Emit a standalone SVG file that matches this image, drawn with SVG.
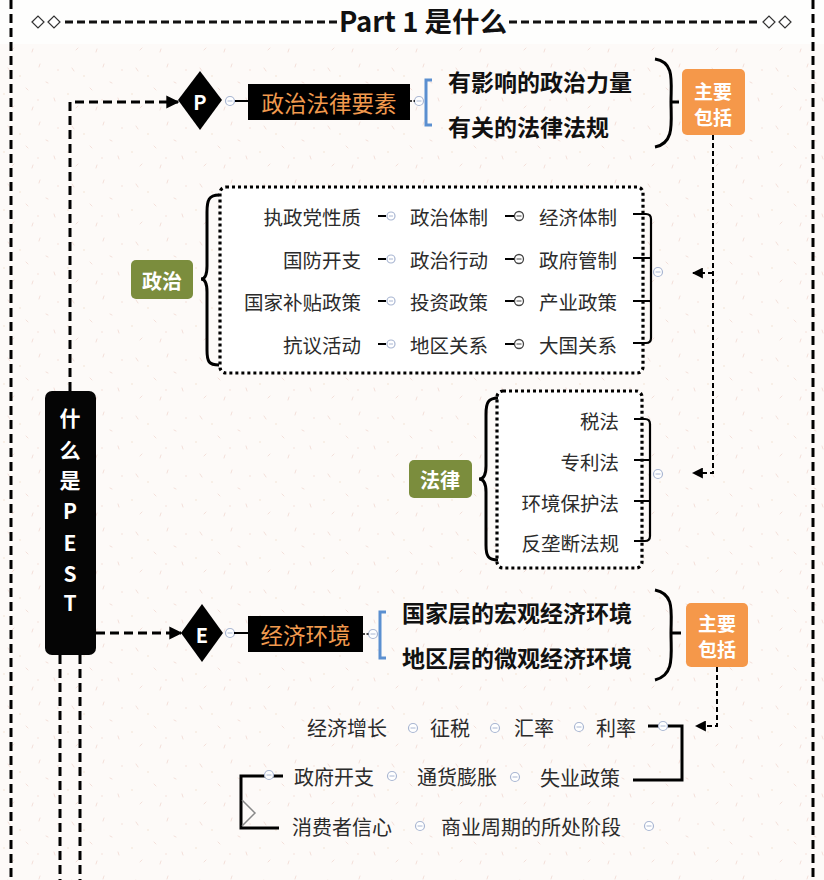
<svg xmlns="http://www.w3.org/2000/svg" width="824" height="880" viewBox="0 0 824 880">
<defs>
<pattern id="speck" width="64" height="58" patternUnits="userSpaceOnUse">
<rect width="64" height="58" fill="#fdfaf8"/>
<path d="M8,10 l2,3 M40,6 l-1,3 M26,30 l2,2 M54,40 l1,3 M14,48 l-2,2 M46,24 l2,1 M32,52 l1,-3" stroke="#f4e0da" stroke-width="1" stroke-linecap="round"/>
<circle cx="20" cy="18" r="0.8" fill="#f3e2d2"/>
<circle cx="58" cy="12" r="0.8" fill="#f5e0da"/>
<circle cx="4" cy="36" r="0.8" fill="#f3e2d2"/>
<circle cx="38" cy="42" r="0.8" fill="#f5e0da"/>
</pattern>
<marker id="arrowBig" viewBox="0 0 10 10" refX="9" refY="5" markerWidth="13" markerHeight="14" markerUnits="userSpaceOnUse" orient="auto">
<path d="M0,0 L10,5 L0,10 z" fill="#000"/>
</marker>
<marker id="arrowSmall" viewBox="0 0 10 10" refX="9" refY="5" markerWidth="11" markerHeight="11" markerUnits="userSpaceOnUse" orient="auto">
<path d="M0,0 L10,5 L0,10 z" fill="#000"/>
</marker>
<style>
text{font-family:"Noto Sans CJK SC","Liberation Sans",sans-serif;dominant-baseline:central}
.reg{font-size:19.5px;fill:#2b2b2b}
.eco{font-size:20px;fill:#2b2b2b}
.big{font-size:23px;font-weight:bold;fill:#111}
.topic{font-size:22.5px;fill:#f19a4e}
.white{fill:#fff;font-weight:bold}
.dash3{fill:none;stroke:#000;stroke-width:3;stroke-dasharray:9 5}
.dash2{fill:none;stroke:#000;stroke-width:2;stroke-dasharray:5 3}
.dot{fill:#fff;stroke:#000;stroke-width:3.2;stroke-dasharray:3 3}
.solid{fill:none;stroke:#000;stroke-width:3}
.thin{fill:none;stroke:#000;stroke-width:2.2}
.blue{fill:none;stroke:#5b8fd0;stroke-width:3}
.cl{fill:#fff;stroke:#a9b6d2;stroke-width:1.2}
.cld{fill:#fff;stroke:#444;stroke-width:1.3}
.orange{fill:#f5984a}
.green{fill:#7b8d3d}
</style>
</defs>

<rect width="824" height="880" fill="url(#speck)"/>
<rect width="824" height="44" fill="#fefefd"/>

<g id="frame">
<path d="M11,0 V880 M813,0 V880" class="dash3"/>
<path d="M65,22 H337 M509,22 H759" fill="none" stroke="#111" stroke-width="2.8" stroke-dasharray="8 4"/>
<path d="M32,22 l6,-6 l6,6 l-6,6 z M48,22 l6,-6 l6,6 l-6,6 z M763,22 l6,-6 l6,6 l-6,6 z M779,22 l6,-6 l6,6 l-6,6 z" fill="#fff" stroke="#333" stroke-width="1.2"/>
</g>
<g id="title">
<text x="423" y="20" font-size="27.5" font-weight="bold" fill="#111" text-anchor="middle">Part 1 是什么</text>
</g>

<g id="center">
<rect x="45" y="391" width="51" height="264" rx="7" fill="#050505"/>
<g class="white" font-size="21" text-anchor="middle">
<text x="70" y="417">什</text>
<text x="70" y="449">么</text>
<text x="70" y="479">是</text>
<text x="70" y="510">P</text>
<text x="70" y="542">E</text>
<text x="70" y="573">S</text>
<text x="70" y="602">T</text>
</g>
</g>

<g id="P-diamond">
<path d="M200,71 L222,100 L200,130 L178,100 z" fill="#000"/>
<text x="200" y="101" class="white" font-size="20" text-anchor="middle">P</text>
<circle cx="230" cy="101" r="4.5" class="cl"/><path d="M227.5,101 H232.5" stroke="#a9b6d2" stroke-width="1"/>
</g>
<g id="P-topic">
<rect x="248" y="84" width="162" height="36" fill="#000"/>
<text x="329" y="102" class="topic" text-anchor="middle">政治法律要素</text>
<circle cx="419" cy="101" r="4.5" class="cl"/><path d="M416.5,101 H421.5" stroke="#a9b6d2" stroke-width="1"/>
</g>
<g id="P-items">
<text x="448" y="81" class="big">有影响的政治力量</text>
<text x="448" y="126" class="big">有关的法律法规</text>
</g>
<g id="P-summary">
<rect x="682" y="69" width="63" height="66" rx="5" class="orange"/>
<text x="713" y="90" class="white" font-size="19" text-anchor="middle">主要</text>
<text x="713" y="116" class="white" font-size="19" text-anchor="middle">包括</text>
</g>

<g id="politics">
<rect x="131" y="260" width="62" height="39" rx="5" class="green"/>
<text x="162" y="280" class="white" font-size="20" text-anchor="middle">政治</text>
</g>
<g id="politics-box">
<rect x="220" y="187" width="423" height="186" rx="6" class="dot"/>
<g class="reg" text-anchor="end">
<text x="361" y="216">执政党性质</text>
<text x="361" y="259">国防开支</text>
<text x="361" y="301">国家补贴政策</text>
<text x="361" y="344">抗议活动</text>
</g>
<g class="reg">
<text x="410" y="216">政治体制</text>
<text x="410" y="259">政治行动</text>
<text x="410" y="301">投资政策</text>
<text x="410" y="344">地区关系</text>
<text x="539" y="216">经济体制</text>
<text x="539" y="259">政府管制</text>
<text x="539" y="301">产业政策</text>
<text x="539" y="344">大国关系</text>
</g>
</g>

<g id="law">
<rect x="409" y="460" width="63" height="38" rx="5" class="green"/>
<text x="440" y="479" class="white" font-size="20" text-anchor="middle">法律</text>
</g>
<g id="law-box">
<rect x="497" y="391" width="145" height="177" rx="6" class="dot"/>
<g class="reg" text-anchor="end">
<text x="619" y="420">税法</text>
<text x="619" y="461">专利法</text>
<text x="619" y="502">环境保护法</text>
<text x="619" y="542">反垄断法规</text>
</g>
</g>

<g id="E-diamond">
<path d="M202,604 L223,633 L202,662 L181,633 z" fill="#000"/>
<text x="202" y="634" class="white" font-size="20" text-anchor="middle">E</text>
<circle cx="230" cy="633" r="4.5" class="cl"/><path d="M227.5,633 H232.5" stroke="#a9b6d2" stroke-width="1"/>
</g>
<g id="E-topic">
<rect x="248" y="616" width="115" height="36" fill="#000"/>
<text x="305.5" y="634" class="topic" text-anchor="middle">经济环境</text>
<circle cx="373" cy="634" r="4.5" class="cl"/><path d="M370.5,634 H375.5" stroke="#a9b6d2" stroke-width="1"/>
</g>
<g id="E-items">
<text x="402" y="612" class="big">国家层的宏观经济环境</text>
<text x="402" y="657" class="big">地区层的微观经济环境</text>
</g>
<g id="E-summary">
<rect x="686" y="603" width="62" height="64" rx="5" class="orange"/>
<text x="717" y="622" class="white" font-size="19" text-anchor="middle">主要</text>
<text x="717" y="648" class="white" font-size="19" text-anchor="middle">包括</text>
</g>

<g id="economy">
<g class="eco">
<text x="307" y="727">经济增长</text>
<text x="430" y="727">征税</text>
<text x="514" y="727">汇率</text>
<text x="596" y="727">利率</text>
<text x="294" y="776">政府开支</text>
<text x="417" y="776">通货膨胀</text>
<text x="540" y="777">失业政策</text>
<text x="292" y="826">消费者信心</text>
<text x="441" y="826">商业周期的所处阶段</text>
</g>
</g>

<g id="connectors">
<path d="M70,391 V102 H178" class="dash3" marker-end="url(#arrowBig)"/>
<path d="M96,633 H181" class="dash3" marker-end="url(#arrowBig)"/>
<path d="M60,655 V880 M80,655 V880" class="dash3"/>
<path d="M713,135 V473 H693" class="dash2" marker-end="url(#arrowSmall)"/>
<path d="M713,273 H693" class="dash2" marker-end="url(#arrowSmall)"/>
<path d="M717,667 V726 H696" class="dash2" marker-end="url(#arrowSmall)"/>
<path d="M235,101 H248 M234,633 H248" class="thin"/>
<path d="M410,101 H415 M363,634 H369" stroke="#000" stroke-width="1.5" stroke-dasharray="2 1.5" fill="none"/>
<path d="M432,80 H426 V125 H432" class="blue"/>
<path d="M386,612 H380 V658 H386" class="blue"/>
<path d="M655,59 C675,62 671,82 671,102 C671,122 675,143 655,147 M671,102 H679" class="solid"/>
<path d="M655,590 C675,594 671,612 671,633 C671,655 675,675 655,680 M671,633 H681" class="solid"/>
<path d="M219,195 C209,195 207,200 207,212 L207,266 C207,275 205,279 201,279 C205,279 207,283 207,292 L207,350 C207,362 209,365 219,365" class="solid"/>
<path d="M498,398 C488,398 486,403 486,414 L486,466 C486,474 484,479 479,479 C484,479 486,484 486,492 L486,545 C486,556 488,560 498,560" class="solid"/>
<path d="M633,214 H646 Q651,214 651,219 V338 Q651,343 646,343 H633 M633,258 H651 M633,301 H651" class="thin"/>
<path d="M634,419 H645 Q650,419 650,424 V536 Q650,541 645,541 H634 M634,460 H650 M634,501 H650" class="thin"/>
<path d="M378,216 H386 M378,259 H386 M378,301 H386 M378,344 H386" class="thin"/>
<path d="M505,216 H514 M505,259 H514 M505,301 H514 M505,344 H514" class="thin"/>
<path d="M648,726 H682 V780 H633" class="solid" stroke-width="3.4"/>
<path d="M283,776 H241 V828 H279" class="solid" stroke="#222" stroke-width="3.4"/>
<polyline points="242,800 255,813 242,826" fill="none" stroke="#888" stroke-width="1.5"/>
</g>

<g id="collapse-buttons">
<circle cx="391" cy="216" r="4" class="cl"/><circle cx="391" cy="259" r="4" class="cl"/><circle cx="391" cy="301" r="4" class="cl"/><circle cx="391" cy="344" r="4" class="cl"/>
<path d="M389,216 H393 M389,259 H393 M389,301 H393 M389,344 H393" stroke="#a9b6d2" stroke-width="1"/>
<circle cx="519" cy="216" r="4.5" class="cld"/><circle cx="519" cy="259" r="4.5" class="cld"/><circle cx="519" cy="301" r="4.5" class="cld"/><circle cx="519" cy="344" r="4.5" class="cld"/>
<path d="M516.5,216 H521.5 M516.5,259 H521.5 M516.5,301 H521.5 M516.5,344 H521.5" stroke="#444" stroke-width="1"/>
<circle cx="658" cy="272" r="4.5" class="cl"/><path d="M655.5,272 H660.5" stroke="#a9b6d2" stroke-width="1"/>
<circle cx="658" cy="474" r="4.5" class="cl"/><path d="M655.5,474 H660.5" stroke="#a9b6d2" stroke-width="1"/>
<circle cx="413" cy="728" r="4.5" class="cl"/><circle cx="495" cy="728" r="4.5" class="cl"/><circle cx="579" cy="727" r="4.5" class="cl"/><circle cx="663" cy="726" r="4.5" class="cl"/>
<circle cx="269" cy="775" r="4.5" class="cl"/><circle cx="392" cy="776" r="4.5" class="cl"/><circle cx="515" cy="777" r="4.5" class="cl"/>
<circle cx="420" cy="826" r="4.5" class="cl"/><circle cx="649" cy="826" r="4.5" class="cl"/>
<path d="M410.5,728 H415.5 M492.5,728 H497.5 M576.5,727 H581.5 M660.5,726 H665.5 M266.5,775 H271.5 M389.5,776 H394.5 M512.5,777 H517.5 M417.5,826 H422.5 M646.5,826 H651.5" stroke="#a9b6d2" stroke-width="1"/>
</g>
</svg>
